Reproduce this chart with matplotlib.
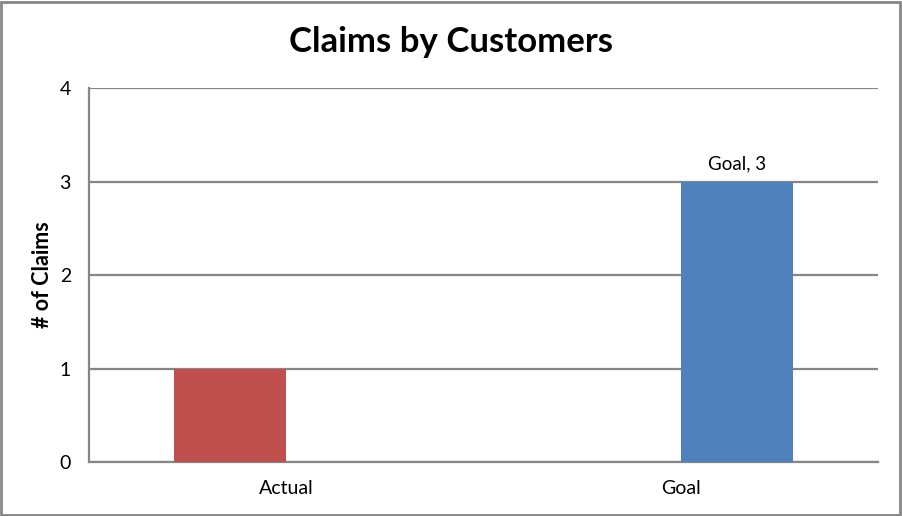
import numpy as np
import matplotlib.pyplot as plt
from matplotlib.patches import Rectangle

# Data
categories = ["Actual", "Goal"]
actual_values = [1, 0]
goal_values = [0, 3]
y_ticks = [0, 1, 2, 3, 4]

plt.rcParams['font.family'] = ['Lato', 'DejaVu Sans']

fig = plt.figure(figsize=(9.02, 5.16), dpi=100)
ax = fig.add_axes([89 / 902, 54 / 516, 789 / 902, 374 / 516])

x = np.arange(len(categories))
w = 1 / 3.5  # excel gap width 150%
grid_col = '#868686'

ax.bar(x - w / 2, actual_values, w, color='#C0504D', zorder=3)
bars = ax.bar(x + w / 2, goal_values, w, color='#4F81BD', zorder=3)

# data label on the goal bar
ax.text(x[1] + w / 2, goal_values[1] + 0.1, f"Goal, {goal_values[1]}",
        ha='center', va='bottom', fontsize=13.5)

ax.set_xlim(-0.5, 1.5)
ax.set_ylim(0, 4)
ax.set_yticks(y_ticks)
ax.set_xticks(x)
ax.set_xticklabels(categories)
ax.tick_params(length=0, labelsize=14)
ax.tick_params(axis='x', pad=13)
ax.tick_params(axis='y', pad=13)
ax.grid(axis='y', color=grid_col, linewidth=1.6, zorder=0)

for side in ['top', 'right']:
    ax.spines[side].set_visible(False)
for side in ['left', 'bottom']:
    ax.spines[side].set_color(grid_col)
    ax.spines[side].set_linewidth(1.6)

ax.set_ylabel("# of Claims", fontsize=15.5, fontweight='bold', labelpad=5)
fig.text(0.5, 1 - 42 / 516, "Claims by Customers", ha='center', va='center',
         fontsize=25, fontweight='bold')

# chart border
fig.patches.append(Rectangle((0.001, 0.002), 0.997, 0.995, transform=fig.transFigure,
                             fill=False, edgecolor=grid_col, linewidth=2))

fig.savefig("out.png", dpi=100)
